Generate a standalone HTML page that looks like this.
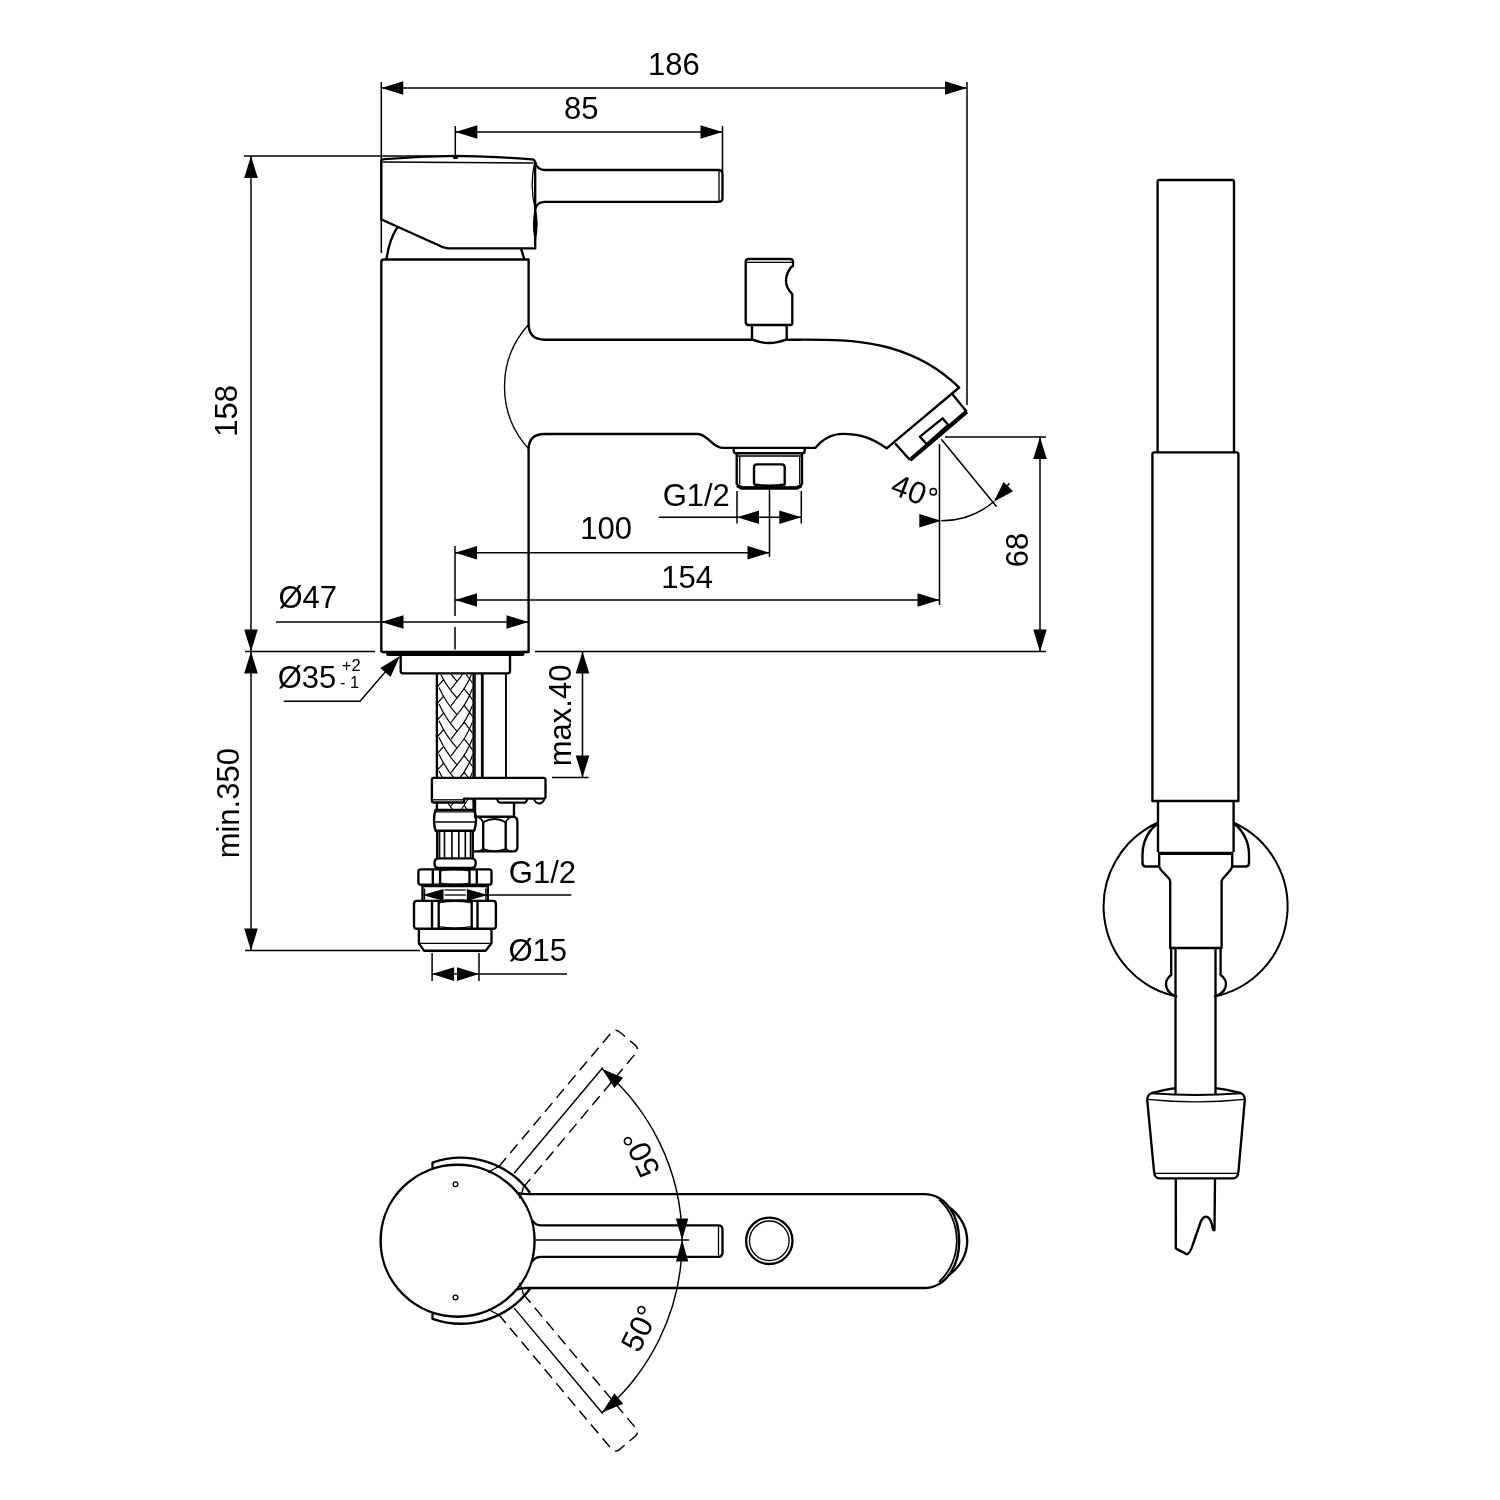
<!DOCTYPE html>
<html><head><meta charset="utf-8"><title>Drawing</title>
<style>
html,body{margin:0;padding:0;background:#fff;width:1500px;height:1500px;overflow:hidden}
svg{display:block;will-change:transform}
text{font-family:"Liberation Sans",sans-serif;fill:#000;stroke:none}
</style></head><body>
<svg width="1500" height="1500" viewBox="0 0 1500 1500" stroke="#000" stroke-linejoin="round" stroke-linecap="butt">
<line x1="381.3" y1="82" x2="381.3" y2="253" stroke-width="1.5"/>
<line x1="967" y1="82" x2="967" y2="405" stroke-width="1.5"/>
<line x1="381.3" y1="88" x2="967" y2="88" stroke-width="1.5"/>
<polygon points="381.3,88 403.3,81.2 403.3,94.8" stroke="none" fill="#000"/>
<polygon points="967,88 945,94.8 945,81.2" stroke="none" fill="#000"/>
<text transform="translate(648.01,75.05) rotate(0)" font-size="31" >186</text>
<line x1="455.3" y1="126" x2="455.3" y2="158" stroke-width="1.5"/>
<line x1="722.5" y1="126" x2="722.5" y2="172" stroke-width="1.5"/>
<line x1="455.3" y1="132" x2="722.5" y2="132" stroke-width="1.5"/>
<polygon points="455.3,132 477.3,125.2 477.3,138.8" stroke="none" fill="#000"/>
<polygon points="722.5,132 700.5,138.8 700.5,125.2" stroke="none" fill="#000"/>
<text transform="translate(563.99,119.05) rotate(0)" font-size="31" >85</text>
<line x1="244" y1="156" x2="455" y2="156" stroke-width="1.5"/>
<line x1="251" y1="156" x2="251" y2="950.5" stroke-width="1.5"/>
<polygon points="251,156 257.8,178 244.2,178" stroke="none" fill="#000"/>
<polygon points="251,651.5 244.2,629.5 257.8,629.5" stroke="none" fill="#000"/>
<polygon points="251,651.5 257.8,673.5 244.2,673.5" stroke="none" fill="#000"/>
<polygon points="251,950.5 244.2,928.5 257.8,928.5" stroke="none" fill="#000"/>
<line x1="245" y1="651.5" x2="375" y2="651.5" stroke-width="1.5"/>
<line x1="245" y1="950.5" x2="420" y2="950.5" stroke-width="1.5"/>
<text transform="translate(237.32,436.72) rotate(-90)" font-size="31" >158</text>
<text transform="translate(238.83,858.37) rotate(-90)" font-size="31" >min.350</text>
<line x1="945" y1="437" x2="1046" y2="437" stroke-width="1.5"/>
<line x1="535" y1="651.5" x2="1046" y2="651.5" stroke-width="1.5"/>
<line x1="1040" y1="437" x2="1040" y2="651.5" stroke-width="1.5"/>
<polygon points="1040,437 1046.8,459 1033.2,459" stroke="none" fill="#000"/>
<polygon points="1040,651.5 1033.2,629.5 1046.8,629.5" stroke="none" fill="#000"/>
<text transform="translate(1027.72,567.35) rotate(-90)" font-size="31" >68</text>
<line x1="455" y1="546" x2="455" y2="616" stroke-width="1.5"/>
<line x1="455" y1="627" x2="455" y2="649.5" stroke-width="1.5"/>
<line x1="769.5" y1="488" x2="769.5" y2="557" stroke-width="1.5"/>
<line x1="939.5" y1="444" x2="939.5" y2="605" stroke-width="1.5"/>
<line x1="455" y1="552.7" x2="769.5" y2="552.7" stroke-width="1.5"/>
<polygon points="455,552.7 477,545.9 477,559.5" stroke="none" fill="#000"/>
<polygon points="769.5,552.7 747.5,559.5 747.5,545.9" stroke="none" fill="#000"/>
<line x1="455" y1="600" x2="939.5" y2="600" stroke-width="1.5"/>
<polygon points="455,600 477,593.2 477,606.8" stroke="none" fill="#000"/>
<polygon points="939.5,600 917.5,606.8 917.5,593.2" stroke="none" fill="#000"/>
<text transform="translate(580.16,539.47) rotate(0)" font-size="31" >100</text>
<text transform="translate(661.29,588.01) rotate(0)" font-size="31" >154</text>
<line x1="737" y1="491" x2="737" y2="523.5" stroke-width="1.5"/>
<line x1="801.3" y1="491" x2="801.3" y2="523.5" stroke-width="1.5"/>
<line x1="658.8" y1="517.3" x2="801.3" y2="517.3" stroke-width="1.5"/>
<polygon points="737,517.3 759,510.5 759,524.1" stroke="none" fill="#000"/>
<polygon points="801.3,517.3 779.3,524.1 779.3,510.5" stroke="none" fill="#000"/>
<text transform="translate(662.65,506.08) rotate(0)" font-size="31" >G1/2</text>
<line x1="276" y1="622" x2="528.7" y2="622" stroke-width="1.5"/>
<polygon points="381.5,622 403.5,615.2 403.5,628.8" stroke="none" fill="#000"/>
<polygon points="528.5,622 506.5,628.8 506.5,615.2" stroke="none" fill="#000"/>
<text transform="translate(278.45,607.57) rotate(0)" font-size="31" >Ø47</text>
<text transform="translate(277.69,687.57) rotate(0)" font-size="31" >Ø35</text>
<text transform="translate(341.86,670.76) rotate(0)" font-size="16.5" >+2</text>
<text transform="translate(339.91,688.18) rotate(0)" font-size="16.5" >- 1</text>
<polyline points="283.75,701.25 360,701.25 396,659.5" fill="none" stroke-width="1.45"/>
<polygon points="400,656 390.52,676.99 380.33,667.98" stroke="none" fill="#000"/>
<line x1="582.5" y1="651.5" x2="582.5" y2="777.5" stroke-width="1.5"/>
<polygon points="582.5,651.5 589.3,673.5 575.7,673.5" stroke="none" fill="#000"/>
<polygon points="582.5,777.5 575.7,755.5 589.3,755.5" stroke="none" fill="#000"/>
<line x1="552" y1="777.5" x2="588.5" y2="777.5" stroke-width="1.5"/>
<text transform="translate(570.92,766.25) rotate(-90)" font-size="31" >max.40</text>
<line x1="486" y1="895" x2="571.4" y2="895" stroke-width="1.5"/>
<polygon points="422.5,895 443.5,889 443.5,901" stroke="none" fill="#000"/>
<polygon points="487.8,895 466.8,901 466.8,889" stroke="none" fill="#000"/>
<text transform="translate(508.8,882.93) rotate(0)" font-size="31" >G1/2</text>
<line x1="432.1" y1="953" x2="432.1" y2="981" stroke-width="1.5"/>
<line x1="479" y1="953" x2="479" y2="981" stroke-width="1.5"/>
<line x1="432.1" y1="974.1" x2="567" y2="974.1" stroke-width="1.5"/>
<polygon points="432.1,974.1 454.1,967.3 454.1,980.9" stroke="none" fill="#000"/>
<polygon points="479,974.1 457,980.9 457,967.3" stroke="none" fill="#000"/>
<text transform="translate(508.47,961.04) rotate(0)" font-size="31" >Ø15</text>
<line x1="941.3" y1="439.2" x2="996.7" y2="506.7" stroke-width="1.5"/>
<path d="M941.3,520.8 A81.6,81.6 0 0 0 993.75,501.71" fill="none" stroke-width="1.45"/>
<polygon points="941.3,520.8 919.3,527.6 919.3,514" stroke="none" fill="#000"/>
<polygon points="993.75,501.71 1003.59,482.02 1013.09,491.19" stroke="none" fill="#000"/>
<line x1="1005" y1="489" x2="1009.3" y2="483.3" stroke-width="1.5"/>
<text transform="translate(889.06,493.27) rotate(21)" font-size="31" >40</text>
<circle cx="933.3" cy="491.7" r="3.2" fill="none" stroke-width="1.5"/>
<path d="M381.3,219.5 V161 Q381.3,159.3 384,159.2 Q420,156.5 455.4,155.9 Q500,156.5 532,159.3 Q534.5,159.6 535.2,162 V248.4 H448 Q443,248 437.6,244.7 Z" stroke-width="2.35" fill="none" />
<path d="M382.5,162 L533.5,163" stroke-width="1.35" fill="none" />
<rect x="453.2" y="156" width="4.6" height="3" fill="#000" stroke="none"/>
<path d="M534.8,161.5 Q537,170 545,170 H718.5 Q722.5,170 722.5,174 V198 Q722.5,201.8 718.5,201.8 H545 Q537,201.8 535.3,209" stroke-width="2.35" fill="none" />
<line x1="719" y1="171" x2="719" y2="201" stroke-width="1.3"/>
<path d="M534.6,163 Q529.5,185 535,208" stroke-width="1.3" fill="none" />
<path d="M535.3,208.5 Q531.5,224 535.3,240.5 Q539,224 535.3,208.5 Z" stroke-width="1.0" fill="#000" />
<path d="M386.5,259.4 Q389,240 397.3,227.3" stroke-width="2.35" fill="none" />
<path d="M521,248.4 L524.2,259" stroke-width="2.35" fill="none" />
<path d="M381.3,652 V262 Q381.3,259.5 384,259.5 H528.6 V324 Q528.6,339.7 545,339.7 H752 M786.7,339.7 H800 C848.4,339.7 908.8,338.5 959.2,387.5 L886.7,448.3 C870,436.5 857,433.8 843,433.8 C829,433.8 821,441 815.3,447.9 H722.5 C712,447.9 708,434 697.5,434 H544.7 Q528.6,434 528.6,449.5 V652 H381.3" stroke-width="2.35" fill="none" />
<path d="M528.2,325 A92,92 0 0 0 528.6,448.7" stroke-width="1.35" fill="none" />
<path d="M748.5,259 H790 Q793,259 793,262 V266 L791,267.3 Q786,274 786,280.7 Q786,288 792.3,294 V322 Q793,325 790,325 H748.5 Q745.7,325 745.7,322 V262 Q745.7,259 748.5,259 Z" stroke-width="2.35" fill="none" />
<line x1="746.5" y1="262.3" x2="792" y2="262.3" stroke-width="1.3"/>
<path d="M752,325 V339.3 Q761,343 769,343 Q777,343 786.7,339.3 V325" stroke-width="2.35" fill="none" />
<path d="M952.5,394.2 L966.7,411.7 M895,443.3 L910,460" stroke-width="2.35" fill="none" />
<path d="M966.7,411.7 L910,460" stroke-width="4.2" fill="none" />
<path d="M920,436.7 L942.5,418.3 L948.3,425 L926.7,444.2 Z" stroke-width="2.35" fill="none" />
<path d="M733.7,448 V451 Q733.7,453.2 736,453.2 H802.5 Q804.7,453.2 804.7,451 V448" stroke-width="2.35" fill="none" />
<path d="M736.7,453.2 V484 L741.3,487.7 H797.3 L802,484 V453.2" stroke-width="2.35" fill="none" />
<path d="M737,485.5 L741.5,487.9 H797 L801.5,485.5" stroke-width="3.5" fill="none" />
<line x1="737.5" y1="456" x2="801.5" y2="456" stroke-width="1.3"/>
<line x1="739.7" y1="456" x2="739.7" y2="484" stroke-width="1.3"/>
<line x1="799.7" y1="456" x2="799.7" y2="484" stroke-width="1.3"/>
<path d="M754,484.5 V467 Q754,464.3 757,464.3 H781.7 Q784.7,464.3 784.7,467 V484.5 Q769,487 754,484.5" stroke-width="2.35" fill="none" />
<path d="M388,654 H522.5" stroke-width="4.0" fill="none" stroke-linecap="round"/>
<path d="M400.7,656 V671 Q400.7,673.3 403,673.3 H507.7 Q510,673.3 510,671 V656" stroke-width="2.35" fill="none" />
<path d="M436.9,673.5 V810 M473.6,673.5 V810" stroke-width="2.35" fill="none" />
<line x1="475.2" y1="673.5" x2="475.2" y2="778" stroke-width="1.2"/>
<clipPath id="hc"><rect x="437.8" y="674.5" width="34.8" height="135"/></clipPath>
<path d="M439,620.6 Q446,635.9 457,647.9 Q467.5,635.9 473,620.4 M437.3,636.6 L443.3,629.9 M451,639 L457,631.2 M464.3,638.9 L469.6,645.6 M469.3,628.4 L473.5,634.4 M439,637.3 Q446,652.6 457,664.6 Q467.5,652.6 473,637.1 M437.3,653.3 L443.3,646.6 M451,655.7 L457,647.9 M464.3,655.6 L469.6,662.3 M469.3,645.1 L473.5,651.1 M439,654 Q446,669.3 457,681.3 Q467.5,669.3 473,653.8 M437.3,670 L443.3,663.3 M451,672.4 L457,664.6 M464.3,672.3 L469.6,679 M469.3,661.8 L473.5,667.8 M439,670.7 Q446,686 457,698 Q467.5,686 473,670.5 M437.3,686.7 L443.3,680 M451,689.1 L457,681.3 M464.3,689 L469.6,695.7 M469.3,678.5 L473.5,684.5 M439,687.4 Q446,702.7 457,714.7 Q467.5,702.7 473,687.2 M437.3,703.4 L443.3,696.7 M451,705.8 L457,698 M464.3,705.7 L469.6,712.4 M469.3,695.2 L473.5,701.2 M439,704.1 Q446,719.4 457,731.4 Q467.5,719.4 473,703.9 M437.3,720.1 L443.3,713.4 M451,722.5 L457,714.7 M464.3,722.4 L469.6,729.1 M469.3,711.9 L473.5,717.9 M439,720.8 Q446,736.1 457,748.1 Q467.5,736.1 473,720.6 M437.3,736.8 L443.3,730.1 M451,739.2 L457,731.4 M464.3,739.1 L469.6,745.8 M469.3,728.6 L473.5,734.6 M439,737.5 Q446,752.8 457,764.8 Q467.5,752.8 473,737.3 M437.3,753.5 L443.3,746.8 M451,755.9 L457,748.1 M464.3,755.8 L469.6,762.5 M469.3,745.3 L473.5,751.3 M439,754.2 Q446,769.5 457,781.5 Q467.5,769.5 473,754 M437.3,770.2 L443.3,763.5 M451,772.6 L457,764.8 M464.3,772.5 L469.6,779.2 M469.3,762 L473.5,768 M439,770.9 Q446,786.2 457,798.2 Q467.5,786.2 473,770.7 M437.3,786.9 L443.3,780.2 M451,789.3 L457,781.5 M464.3,789.2 L469.6,795.9 M469.3,778.7 L473.5,784.7 M439,787.6 Q446,802.9 457,814.9 Q467.5,802.9 473,787.4 M437.3,803.6 L443.3,796.9 M451,806 L457,798.2 M464.3,805.9 L469.6,812.6 M469.3,795.4 L473.5,801.4 " stroke-width="1.2" fill="none" clip-path="url(#hc)"/>
<line x1="482.3" y1="673.5" x2="482.3" y2="778" stroke-width="2.8"/>
<line x1="506" y1="673.5" x2="506" y2="778" stroke-width="1.9"/>
<path d="M433.5,777.8 H543.5 Q545.5,777.8 545.5,780 V796.5 Q545.5,798.6 543.5,798.6 H502 V798.6 H464 V802.5 H434 Q431.9,802.5 431.9,800.4 V780 Q431.9,777.8 433.5,777.8 Z" stroke-width="2.35" fill="#fff" />
<line x1="433" y1="799.8" x2="463" y2="799.8" stroke-width="1.3"/>
<path d="M496.9,798.8 Q498.5,803 500.5,802.6 H524.6 Q526.4,802.6 527.2,799" stroke-width="2.1" fill="none" />
<path d="M534,799 Q535.5,803.4 539,803.4 Q542.5,803.4 544.5,799" stroke-width="2.0" fill="none" />
<path d="M475,799 V816.7 M514,803 V816.7" stroke-width="2.35" fill="none" />
<path d="M474.1,816.7 H513.5 Q517.4,817.5 517.4,822 V847 Q517.4,851.3 513.5,851.3 H474.1" stroke-width="2.35" fill="none" />
<path d="M483.2,821.5 V849.8 M505.7,821.5 V849.8" stroke-width="2.35" fill="none" />
<path d="M483.2,822.3 Q494.5,815.8 505.7,822.3 M483.2,849.2 Q494.5,853.6 505.7,849.2" stroke-width="1.9" fill="none" />
<path d="M477.5,817 Q481.5,818.2 483.2,822.3 M505.7,822.3 Q508,817.6 511.5,817 M483.2,849.2 Q481,851.2 477.5,851.3 M505.7,849.2 Q508,851.2 511.5,851.3" stroke-width="1.7" fill="none" />
<path d="M435.5,809.9 H474.3 Q476,815 476,820 Q476,826 474.3,830.7 H435.5 Q434,826 434,820 Q434,815 435.5,809.9 Z" stroke-width="2.35" fill="none" />
<line x1="435" y1="811.8" x2="475" y2="811.8" stroke-width="1.3"/>
<line x1="434.5" y1="822" x2="475.5" y2="822" stroke-width="1.3"/>
<path d="M437.3,830.7 V857.8 M472.7,830.7 V857.8" stroke-width="2.6" fill="none" />
<line x1="444.5" y1="831" x2="444.5" y2="857.5" stroke-width="1.6"/>
<line x1="451.9" y1="831" x2="451.9" y2="857.5" stroke-width="1.6"/>
<line x1="458.8" y1="831" x2="458.8" y2="857.5" stroke-width="1.6"/>
<line x1="465.3" y1="831" x2="465.3" y2="857.5" stroke-width="1.6"/>
<line x1="439.7" y1="831" x2="439.7" y2="857.5" stroke-width="1.3"/>
<line x1="470.4" y1="831" x2="470.4" y2="857.5" stroke-width="1.3"/>
<path d="M438.5,858.4 H471.7 Q475.7,858.4 475.7,863.15 Q475.7,867.9 471.7,867.9 H438.5 Q434.5,867.9 434.5,863.15 Q434.5,858.4 438.5,858.4 Z" stroke-width="2.35" fill="none" />
<path d="M421,869.3 H489 Q491.5,869.3 491.5,871.5 V882.5 Q491.5,884.7 489,884.7 H421 Q418.4,884.7 418.4,882.5 V871.5 Q418.4,869.3 421,869.3 Z" stroke-width="2.35" fill="none" />
<path d="M432.8,869.3 V884.7 M440.1,869.3 V884.7 M469.5,869.3 V884.7 M476.8,869.3 V884.7" stroke-width="2.35" fill="none" />
<path d="M440.1,871 Q454.8,868.5 469.5,871 M440.1,883 Q454.8,885.5 469.5,883" stroke-width="1.2" fill="none" />
<path d="M422.5,886.1 V901.5 M487.8,886.1 V901.5" stroke-width="2.35" fill="none" />
<line x1="422.5" y1="886.5" x2="487.8" y2="886.5" stroke-width="1.6"/>
<line x1="424.5" y1="888.5" x2="424.5" y2="900" stroke-width="1.3"/>
<line x1="485.8" y1="888.5" x2="485.8" y2="900" stroke-width="1.3"/>
<line x1="444.5" y1="895" x2="465.8" y2="895" stroke-width="1.3"/>
<line x1="444.5" y1="890" x2="465.8" y2="890" stroke-width="1.3"/>
<line x1="444.5" y1="900" x2="465.8" y2="900" stroke-width="1.3"/>
<path d="M417,900.8 H493 Q495.9,900.8 495.9,903.5 V926 Q495.9,928.7 493,928.7 H417 Q414,928.7 414,926 V903.5 Q414,900.8 417,900.8 Z" stroke-width="2.35" fill="none" />
<path d="M432,900.8 V928.7 M438.7,900.8 V928.7 M471.7,900.8 V928.7 M477.5,900.8 V928.7" stroke-width="2.35" fill="none" />
<path d="M438.7,903 Q455.2,900 471.7,903 M438.7,926.5 Q455.2,929.5 471.7,926.5" stroke-width="1.2" fill="none" />
<path d="M418.9,928.7 V943.3 L424,950.7 H485.6 L491.5,943.3 V928.7" stroke-width="2.35" fill="none" />
<line x1="419.5" y1="943.3" x2="491" y2="943.3" stroke-width="1.3"/>
<path d="M516.5,1192.5 Q521.5,1194.1 527.5,1194.1 H924 C946,1194.1 959.2,1216 959.2,1241 C959.2,1266 946,1288 924,1288 H527.5 Q521.5,1288 516.5,1289.5" stroke-width="2.35" fill="none" />
<path d="M947.5,1206 C961.5,1215.5 967.2,1229 967.2,1241 C967.2,1253 961.5,1266.5 947.5,1276" stroke-width="2.35" fill="none" />
<path d="M939,1199.5 C951,1210 956.8,1226 956.8,1240.5 C956.8,1255 951,1271 939,1282" stroke-width="1.8" fill="none" />
<circle cx="769.3" cy="1240.8" r="23.2" fill="none" stroke-width="2.3"/>
<circle cx="769.3" cy="1240.8" r="19.8" fill="none" stroke-width="1.3"/>
<path d="M532.5,1220.5 Q535,1225.3 541,1225.3 H718.3 Q722.5,1225.3 722.5,1229.5 V1252.5 Q722.5,1256.8 718.3,1256.8 H541 Q535,1256.8 532.5,1261.5" stroke-width="2.35" fill="none" />
<line x1="718.5" y1="1226.5" x2="718.5" y2="1255.5" stroke-width="1.3"/>
<line x1="535.5" y1="1240" x2="689" y2="1240" stroke-width="1.3"/>
<ellipse cx="457.6" cy="1240.7" rx="77" ry="76" fill="none" stroke-width="2.35"/>
<path d="M432.5,1168 V1162.6 A86,86 0 0 1 530,1192.7" stroke-width="2.35" fill="none" />
<path d="M432.5,1313.5 V1318.8 A86,86 0 0 0 530,1288.7" stroke-width="2.35" fill="none" />
<circle cx="455.5" cy="1184.3" r="2.4" fill="none" stroke-width="1.3"/>
<circle cx="455.5" cy="1297.5" r="2.4" fill="none" stroke-width="1.3"/>
<g transform="translate(457.6,1240.7) rotate(-50)"><path d="M83,-16 H258 Q264,-16 264,-10 V10 Q264,16 258,16 H83" fill="none" stroke-width="1.45" stroke-dasharray="11.5 6.5"/><path d="M72,-20.5 Q80,-18 83,-16 M72,20.5 Q80,18 83,16" fill="none" stroke-width="1.35"/><line x1="88" y1="0" x2="226" y2="0" stroke-width="1.45"/></g>
<g transform="translate(457.6,1240.7) rotate(50)"><path d="M83,-16 H258 Q264,-16 264,-10 V10 Q264,16 258,16 H83" fill="none" stroke-width="1.45" stroke-dasharray="11.5 6.5"/><path d="M72,-20.5 Q80,-18 83,-16 M72,20.5 Q80,18 83,16" fill="none" stroke-width="1.35"/><line x1="88" y1="0" x2="226" y2="0" stroke-width="1.45"/></g>
<path d="M601.91,1068.72 A224.5,224.5 0 0 1 601.91,1412.68" fill="none" stroke-width="1.45"/>
<polygon points="601.91,1068.72 623.13,1077.66 614.39,1088.07" stroke="none" fill="#000"/>
<polygon points="601.91,1412.68 614.39,1393.33 623.13,1403.74" stroke="none" fill="#000"/>
<polygon points="682.1,1240 675.9,1218.5 688.3,1218.5" stroke="none" fill="#000"/>
<polygon points="682.1,1240 688.3,1261.5 675.9,1261.5" stroke="none" fill="#000"/>
<text transform="translate(660.8,1170.75) rotate(-115)" font-size="31" >50°</text>
<text transform="translate(639.1,1354.12) rotate(-64)" font-size="31" >50°</text>
<path d="M1159.5,180 H1232 Q1234,180 1234,182 V452.4 M1157.6,452.4 V182 Q1157.6,180 1159.5,180" stroke-width="2.35" fill="none" />
<path d="M1154.4,452.4 H1236.4 Q1238.4,452.4 1238.4,454.4 V801 H1152.4 V454.4 Q1152.4,452.4 1154.4,452.4 Z" stroke-width="2.35" fill="none" />
<path d="M1158,801 V852 M1233.6,801 V852" stroke-width="2.35" fill="none" />
<path d="M1159,853.3 H1232.5" stroke-width="3.2" fill="none" />
<path d="M1159.2,852 V866 Q1159.2,868 1161,870 L1169,878.5 Q1170.2,880 1170.2,882 V948 H1221.6 V882 Q1221.6,880 1223,878.5 L1230.5,870 Q1232.2,868 1232.2,866 V852" stroke-width="2.35" fill="none" />
<path d="M1157.2,823.5 Q1142.5,836 1142.5,855 V863 Q1142.5,866.5 1146,866.5 H1159.2" stroke-width="2.35" fill="none" />
<path d="M1234.2,823.5 Q1249,836 1249,855 V863 Q1249,866.5 1245.5,866.5 H1232.2" stroke-width="2.35" fill="none" />
<path d="M1157.45,822.78 A92,92 0 0 0 1177.26,996.65" stroke-width="2.0" fill="none" />
<path d="M1233.75,822.78 A92,92 0 0 1 1213.94,996.65" stroke-width="2.0" fill="none" />
<path d="M1171.2,948 V975 Q1166,979 1166,984 Q1166,992 1175,996" stroke-width="2.35" fill="none" />
<path d="M1220.6,948 V975 Q1226,979 1226,984 Q1226,992 1216,996" stroke-width="2.35" fill="none" />
<path d="M1175.5,949 V1094 M1215.5,949 V1094" stroke-width="2.35" fill="none" />
<path d="M1175.8,1088.2 Q1166,1089.5 1152,1093 Q1147.2,1094.5 1147.2,1100 L1154,1171 Q1154.5,1178.3 1159,1178.3 H1233.5 Q1238,1178.3 1238.5,1171 L1244.8,1100 Q1244.8,1094.5 1240.5,1093 Q1226,1089.5 1215.2,1088.2" stroke-width="2.35" fill="none" />
<path d="M1151,1093.2 Q1196,1096.8 1241,1093.2" stroke-width="1.9" fill="none" />
<path d="M1147.6,1099.3 Q1196,1104.3 1244.4,1099.3" stroke-width="1.2" fill="none" />
<path d="M1154.5,1173.3 H1238" stroke-width="1.3" fill="none" />
<path d="M1175.8,1178.3 V1248.3 Q1178,1250 1186.7,1254.2 Q1190,1254 1193,1244 L1201,1221 Q1204,1215.5 1207.5,1217 Q1211,1219 1212.5,1227 Q1213,1231 1214.5,1230 L1215,1178.3" stroke-width="2.35" fill="none" />
</svg>
</body></html>
